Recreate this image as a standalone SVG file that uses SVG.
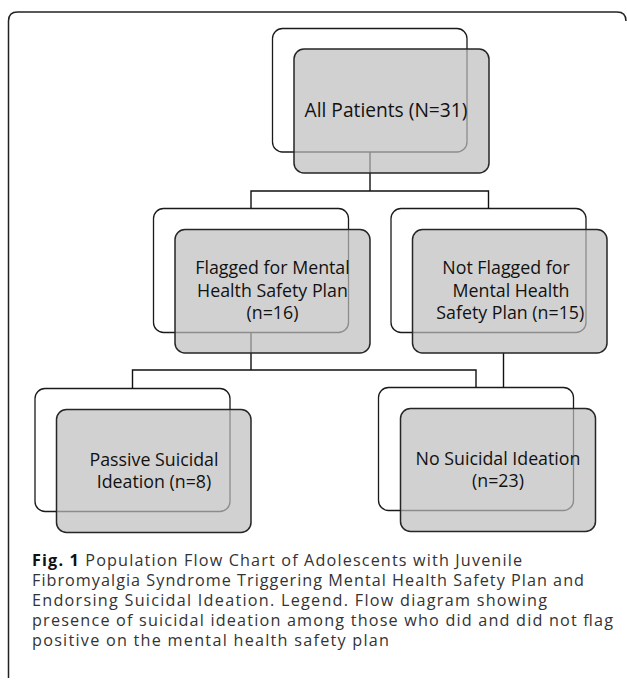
<svg xmlns="http://www.w3.org/2000/svg" width="627" height="681" viewBox="0 0 627 681">
<style>
.bg{fill:#ffffff;stroke:#1a1a1a;stroke-width:1.3}
.fg{fill:#bdbdbd;fill-opacity:0.7;stroke:#262626;stroke-width:1.5}
.conn{fill:none;stroke:#111;stroke-width:1.4}
.frame{fill:none;stroke:#222;stroke-width:1.5}
.nt{font-family:"Open Sans","Liberation Sans",sans-serif;font-size:17.8px;fill:#111;text-anchor:middle}
.nt.big{font-size:19.2px}
.cap{font-family:"Open Sans","Liberation Sans",sans-serif;font-size:16.2px;fill:#333}
.cap .b{font-weight:bold;fill:#111}
</style>
<rect width="627" height="681" fill="#ffffff"/>
<path class="frame" d="M8.5,678 V21 Q8.5,12 17.5,12 H617 Q626,12 626,21"/>

<g id="back-boxes">
<rect class="bg" x="272.5" y="28.5" width="194.5" height="123.5" rx="10"/>
<rect class="bg" x="153.5" y="208.5" width="195" height="124" rx="10"/>
<rect class="bg" x="391" y="208.5" width="195" height="124" rx="10"/>
<rect class="bg" x="35" y="388.5" width="195" height="123" rx="10"/>
<rect class="bg" x="378.5" y="387.5" width="195" height="123" rx="10"/>
</g>

<g id="connectors">
<path class="conn" d="M370,152 V191"/>
<path class="conn" d="M251,208.5 V191 H488.5 V208.5"/>
<path class="conn" d="M251,332.5 V370"/>
<path class="conn" d="M132.5,388.5 V370 H476 V387.5"/>
<path class="conn" d="M503.5,353 V387.5"/>
</g>

<g id="node-all">
<rect class="fg" x="294" y="49" width="195" height="124" rx="10"/>
<text class="nt big" x="386" y="117">All Patients (N=31)</text>
</g>

<g id="node-flagged">
<rect class="fg" x="175" y="229.5" width="195" height="123.5" rx="10"/>
<text class="nt" x="272.5" y="274">Flagged for Mental</text>
<text class="nt" x="272.5" y="296.5">Health Safety Plan</text>
<text class="nt" x="272.5" y="318.5">(n=16)</text>
</g>

<g id="node-not-flagged">
<rect class="fg" x="412.5" y="229.5" width="194.5" height="123.5" rx="10"/>
<text class="nt" x="506" y="274">Not Flagged for</text>
<text class="nt" x="511" y="296.5">Mental Health</text>
<text class="nt" x="510.3" y="318.5">Safety Plan (n=15)</text>
</g>

<g id="node-passive">
<rect class="fg" x="56.5" y="409.5" width="194.5" height="123" rx="10"/>
<text class="nt" x="154" y="465.5">Passive Suicidal</text>
<text class="nt" x="154" y="487.5">Ideation (n=8)</text>
</g>

<g id="node-no-si">
<rect class="fg" x="400.5" y="408.5" width="195" height="123" rx="10"/>
<text class="nt" x="498" y="464.5">No Suicidal Ideation</text>
<text class="nt" x="498" y="486.5">(n=23)</text>
</g>

<g id="caption" class="cap">
<text x="32" y="565.5" textLength="490"><tspan class="b">Fig. 1</tspan> Population Flow Chart of Adolescents with Juvenile</text>
<text x="32" y="585.5" textLength="552">Fibromyalgia Syndrome Triggering Mental Health Safety Plan and</text>
<text x="32" y="605.5" textLength="515">Endorsing Suicidal Ideation. Legend. Flow diagram showing</text>
<text x="32" y="625.5" textLength="581">presence of suicidal ideation among those who did and did not flag</text>
<text x="32" y="645.5" textLength="357">positive on the mental health safety plan</text>
</g>
</svg>
